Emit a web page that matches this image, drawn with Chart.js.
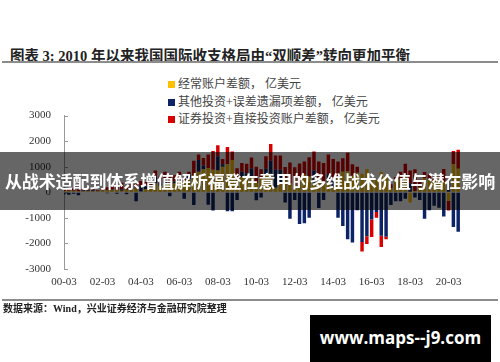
<!DOCTYPE html>
<html>
<head>
<meta charset="utf-8">
<script src="https://cdn.jsdelivr.net/npm/chart.js@4.4.1/dist/chart.umd.min.js"></script>
<style>
  html, body { margin: 0; padding: 0; background: #fff; }
  #page { position: relative; width: 500px; height: 362px; overflow: hidden; background: #fff; }
  #title { position: absolute; left: 10px; top: 44px; font: bold 14.5px "Liberation Serif", "Noto Sans CJK SC"; color: #222; white-space: nowrap; }
  .rule { position: absolute; left: 2px; width: 496px; background: #8c8c8c; }
  #legend { position: absolute; left: 168px; top: 76px; font: 12px "Liberation Serif", "Noto Sans CJK SC"; color: #444; }
  #legend div { height: 17.5px; line-height: 17px; white-space: nowrap; }
  #legend span { display: inline-block; width: 7px; height: 7px; margin-right: 3px; vertical-align: 0px; }
  #box { position: absolute; left: 0; top: 96px; width: 470px; height: 205px; }
  #banner { position: absolute; left: 0; top: 152px; width: 500px; height: 58px; background: rgba(0,0,0,0.6); color: #fff; font: bold 17px "Noto Sans CJK SC"; line-height: 58px; text-align: center; white-space: nowrap; letter-spacing: -0.1px; }
  #source { position: absolute; left: 3px; top: 300px; font: bold 10px "Liberation Serif", "Noto Sans CJK SC"; color: #222; white-space: nowrap; }
  #mark { position: absolute; left: 310px; top: 315px; width: 181px; height: 47px; background: #000; color: #fff; font: bold 17px "Open Sans", sans-serif; line-height: 46px; text-align: center; }
</style>
</head>
<body>
<div id="page">
  <div id="title">图表 3:  2010 年以来我国国际收支格局由“双顺差”转向更加平衡</div>
  <div class="rule" style="top:61px;height:2px;"></div>
  <div id="legend"></div>
  <div id="box"><canvas id="bopChart"></canvas></div>
  <div id="banner">从战术适配到体系增值解析福登在意甲的多维战术价值与潜在影响</div>
  <div class="rule" style="top:299px;height:1.5px;"></div>
  <div id="source">数据来源：Wind，兴业证券经济与金融研究院整理</div>
  <div id="mark">www.maps--j9.com</div>
</div>
<script>
// quarters 2000Q1 .. 2020Q4, label like "00-03"
const years = ['00','01','02','03','04','05','06','07','08','09','10','11','12','13','14','15','16','17','18','19','20'];
const months = ['03','06','09','12'];
const quarters = [];
years.forEach(y => months.forEach(m => quarters.push(y + '-' + m)));

const seriesNames = [
    '经常账户差额，  亿美元',
    '其他投资+误差遗漏项差额，  亿美元',
    '证券投资+直接投资账户差额，  亿美元'
];
const seriesColors = ['#FFC000', '#0C2467', '#D90000'];

// 亿美元
const currentAccount = [
    50, 60, 60, 40,
    40, 50, 40, 40,
    70, 90, 100, 90,
    60, 100, 120, 150,
    30, 120, 200, 340,
    250, 350, 380, 340,
    420, 450, 500, 680,
    800, 900, 950, 880,
    850, 1000, 1100, 1265,
    550, 600, 650, 630,
    360, 570, 720, 730,
    180, 380, 460, 340,
    250, 600, 690, 610,
    350, 350, 370, 410,
    200, 540, 800, 820,
    650, 760, 730, 910,
    550, 490, 790, 670,
    160, 450, 530, 640,
    -400, 50, 200, 550,
    490, 460, 500, 400,
    -340, 1100, 920, null
];
const otherInvestment = [
    -80, -100, -60, -120,
    30, 20, 40, 10,
    20, -40, 30, -60,
    50, -80, 60, -350,
    210, 120, 50, 280,
    120, 150, -150, 80,
    130, -250, 220, -500,
    465, 150, -490, -710,
    560, 100, -740, -740,
    -300, 200, 100, 300,
    -310, -200, 200, 500,
    700, 500, -400, -1030,
    -300, -1240, -1210, -1000,
    500, -610, -300, 300,
    300, -1000, -1320, -1840,
    -1960, -700, -1940, -1720,
    -1060, -770, -1700, -1740,
    -500, -350, -350, -250,
    350, -200, -300, -1030,
    -700, -530, -600, -950,
    490, -1360, -1540, null
];
const directPortfolio = [
    90, 80, 90, 70,
    60, 40, 50, 30,
    80, 110, 100, 120,
    260, 120, 150, 180,
    200, 160, 190, 230,
    250, 300, 240, 250,
    250, 100, 80, 550,
    215, 290, 530, 740,
    430, 200, 670, 335,
    390, 350, 370, 430,
    640, 330, 490, 660,
    560, 560, 530, 830,
    730, 530, 510, 760,
    750, 850, 780, 770,
    800, 660, 530, 730,
    450, 240, -380, -300,
    -690, -230, -440, -100,
    150, 150, 270, 480,
    500, 850, 290, 240,
    210, 110, 110, 510,
    -370, 520, 740, null
];
const yTicks = [-3000, -2000, -1000, 0, 1000, 2000, 3000];

// legend
const legendEl = document.getElementById('legend');
seriesNames.forEach((name, i) => {
    const row = document.createElement('div');
    row.innerHTML = '<span style="background:' + seriesColors[i] + '"></span>' + name;
    legendEl.appendChild(row);
});

// small tick marks on the inner side of the y axis
const innerTicks = {
    id: 'innerTicks',
    afterDraw(chart) {
        const y = chart.scales.y;
        const ctx = chart.ctx;
        ctx.save();
        ctx.strokeStyle = '#999';
        ctx.lineWidth = 1;
        yTicks.forEach(v => {
            const py = Math.round(y.getPixelForValue(v)) + 0.5;
            ctx.beginPath();
            ctx.moveTo(y.right, py);
            ctx.lineTo(y.right + 4, py);
            ctx.stroke();
        });
        ctx.restore();
    }
};

const allSeries = [currentAccount, otherInvestment, directPortfolio];
var ctx = document.getElementById('bopChart').getContext('2d');
var bopChart = new Chart(ctx, {
    type: 'bar',
    data: {
        labels: quarters,
        datasets: allSeries.map((d, i) => ({
            label: seriesNames[i],
            data: d,
            backgroundColor: seriesColors[i],
            stack: 'bop',
            barPercentage: 0.72,
            categoryPercentage: 1
        }))
    },
    options: {
        responsive: true,
        maintainAspectRatio: false,
        animation: false,
        layout: { autoPadding: false, padding: { top: 6, left: 0, right: 0, bottom: 0 } },
        plugins: { legend: { display: false }, tooltip: { enabled: false } },
        scales: {
            x: {
                stacked: true,
                offset: false,
                grid: { display: false, drawTicks: false },
                border: { display: false },
                ticks: {
                    autoSkip: false,
                    maxRotation: 0,
                    padding: 7,
                    color: '#333',
                    font: { family: 'Liberation Serif', size: 11 },
                    callback: function(value, index) {
                        return index % 8 === 0 ? quarters[index] : '';
                    }
                },
                afterFit: function(scale) { scale.height = 32; }
            },
            y: {
                stacked: true,
                min: -3000,
                max: 3000,
                grid: { drawOnChartArea: false, drawTicks: false },
                border: { display: true, color: '#999', width: 1 },
                ticks: {
                    stepSize: 1000,
                    padding: 13,
                    color: '#333',
                    font: { family: 'Liberation Serif', size: 11 },
                    callback: function(value) { return String(value); }
                },
                afterFit: function(scale) { scale.width = 64; }
            }
        }
    },
    plugins: [innerTicks]
});
</script>
</body>
</html>
